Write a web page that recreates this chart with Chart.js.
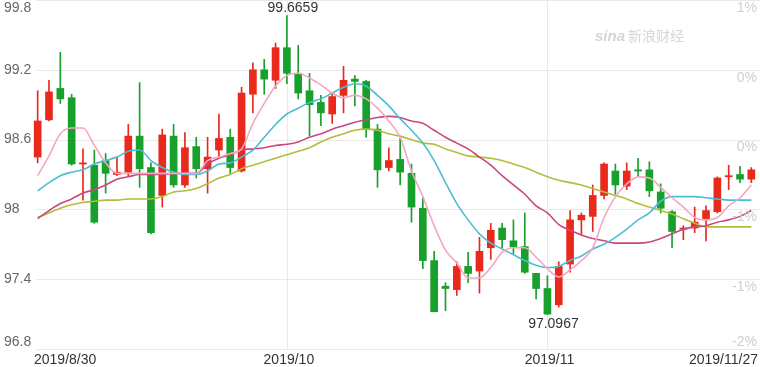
<!DOCTYPE html>
<html><head><meta charset="utf-8">
<script src="https://cdn.jsdelivr.net/npm/chart.js@4"></script>
<style>html,body{margin:0;padding:0;background:#fff}#wrap{position:relative;width:760px;height:367px}</style>
</head><body><div id="wrap"><canvas id="c" width="760" height="367"></canvas></div>
<script>
const dates = ["2019/8/30",
 "2019/9/2","2019/9/3","2019/9/4","2019/9/5","2019/9/6","2019/9/9","2019/9/10","2019/9/11","2019/9/12","2019/9/13",
 "2019/9/16","2019/9/17","2019/9/18","2019/9/19","2019/9/20","2019/9/23","2019/9/24","2019/9/25","2019/9/26","2019/9/27","2019/9/30",
 "2019/10/1","2019/10/2","2019/10/3","2019/10/4","2019/10/7","2019/10/8","2019/10/9","2019/10/10","2019/10/11",
 "2019/10/14","2019/10/15","2019/10/16","2019/10/17","2019/10/18","2019/10/21","2019/10/22","2019/10/23","2019/10/24","2019/10/25",
 "2019/10/28","2019/10/29","2019/10/30","2019/10/31",
 "2019/11/1","2019/11/4","2019/11/5","2019/11/6","2019/11/7","2019/11/8","2019/11/11","2019/11/12","2019/11/13","2019/11/14","2019/11/15",
 "2019/11/18","2019/11/19","2019/11/20","2019/11/21","2019/11/22","2019/11/25","2019/11/26","2019/11/27"];

const openP  = [98.45,98.77,99.04,98.96,98.39,98.38,98.42,98.30,98.32,98.63,98.36,98.12,98.63,98.21,98.54,98.35,98.51,98.62,98.33,98.99,99.20,99.11,99.39,99.17,99.02,98.92,98.82,98.98,99.12,99.10,98.69,98.36,98.43,98.31,98.01,97.56,97.34,97.31,97.51,97.47,97.67,97.84,97.73,97.68,97.45,97.32,97.18,97.53,97.91,97.94,98.12,98.33,98.20,98.34,98.34,98.15,97.98,97.83,97.84,97.91,97.98,98.28,98.30,98.26];
const highP  = [99.02,99.11,99.35,98.99,98.52,98.51,98.48,98.45,98.73,99.09,98.40,98.69,98.73,98.66,98.62,98.62,98.82,98.69,99.05,99.26,99.29,99.43,99.6659,99.41,99.17,98.98,99.00,99.23,99.15,99.11,98.73,98.53,98.61,98.39,98.10,97.64,97.37,97.55,97.63,97.76,97.88,97.88,97.91,97.97,97.45,97.43,97.55,97.99,97.97,98.21,98.40,98.39,98.40,98.44,98.41,98.22,97.99,97.86,98.02,98.03,98.28,98.38,98.37,98.36];
const lowP   = [98.40,98.76,98.91,98.38,98.08,97.88,98.14,98.29,98.29,98.19,97.79,98.02,98.19,98.19,98.27,98.14,98.45,98.31,98.32,98.83,98.99,99.04,99.08,98.95,98.63,98.72,98.74,98.83,98.89,98.62,98.19,98.33,98.21,97.89,97.49,97.12,97.13,97.26,97.37,97.28,97.57,97.67,97.62,97.45,97.23,97.0967,97.16,97.46,97.78,97.81,98.09,98.13,98.17,98.29,98.11,97.97,97.67,97.74,97.80,97.73,97.97,98.17,98.23,98.23];
const closeP = [98.76,99.01,98.95,98.39,98.40,97.89,98.31,98.32,98.63,98.35,97.80,98.64,98.21,98.53,98.35,98.45,98.61,98.36,99.00,99.20,99.12,99.39,99.17,99.00,98.90,98.83,98.97,99.11,99.10,98.69,98.34,98.42,98.32,98.02,97.56,97.12,97.32,97.51,97.45,97.64,97.82,97.74,97.68,97.46,97.32,97.10,97.51,97.91,97.95,98.12,98.39,98.21,98.33,98.33,98.16,98.01,97.81,97.84,97.89,97.99,98.27,98.29,98.26,98.34];

const ma5  = [98.29,98.46,98.65,98.70,98.70,98.55,98.40,98.31,98.31,98.31,98.31,98.31,98.31,98.31,98.31,98.42,98.45,98.48,98.52,98.74,98.91,99.06,99.15,99.17,99.13,99.07,99.00,98.96,98.98,98.95,98.87,98.76,98.62,98.33,98.11,97.86,97.65,97.54,97.41,97.41,97.50,97.63,97.67,97.67,97.59,97.49,97.42,97.48,97.56,97.67,97.93,98.11,98.22,98.28,98.27,98.19,98.10,98.02,97.93,97.91,97.93,98.03,98.10,98.21];
const ma10 = [98.16,98.23,98.29,98.32,98.34,98.39,98.42,98.45,98.50,98.51,98.42,98.36,98.32,98.30,98.30,98.33,98.39,98.40,98.45,98.51,98.62,98.73,98.82,98.87,98.92,98.95,99.00,99.05,99.08,99.06,98.98,98.89,98.78,98.68,98.57,98.42,98.23,98.05,97.91,97.79,97.71,97.66,97.61,97.56,97.52,97.50,97.51,97.56,97.60,97.66,97.70,97.76,97.83,97.91,97.97,98.07,98.11,98.11,98.11,98.10,98.09,98.08,98.08,98.08];
const ma20 = [97.92,97.99,98.05,98.09,98.14,98.17,98.21,98.26,98.28,98.30,98.30,98.30,98.31,98.31,98.31,98.39,98.44,98.47,98.51,98.52,98.53,98.55,98.56,98.58,98.62,98.65,98.69,98.72,98.75,98.77,98.79,98.80,98.79,98.76,98.74,98.68,98.62,98.57,98.52,98.45,98.38,98.29,98.21,98.13,98.03,97.97,97.87,97.82,97.78,97.75,97.73,97.71,97.71,97.71,97.72,97.75,97.79,97.83,97.85,97.86,97.89,97.91,97.94,97.99];
const ma30 = [97.93,97.97,98.01,98.04,98.06,98.07,98.08,98.08,98.09,98.09,98.09,98.11,98.15,98.16,98.18,98.22,98.27,98.30,98.35,98.38,98.41,98.44,98.47,98.50,98.53,98.58,98.62,98.65,98.68,98.69,98.68,98.65,98.63,98.60,98.57,98.56,98.52,98.49,98.46,98.45,98.44,98.42,98.39,98.36,98.32,98.28,98.25,98.23,98.21,98.18,98.15,98.12,98.09,98.05,98.02,97.99,97.96,97.92,97.88,97.85,97.85,97.85,97.85,97.85];

const yTicks = [96.8, 97.4, 98, 98.6, 99.2, 99.8];
const yTickLabels = ["96.8", "97.4", "98", "98.6", "99.2", "99.8"];
const pctLabels = ["-2%", "-1%", "-1%", "0%", "0%", "1%"];
const xTickIdx = [0, 22, 45, 63];
const xTickLabels = ["2019/8/30", "2019/10", "2019/11", "2019/11/27"];
const vGridIdx = [22, 45];

const UP = '#e8291c', DOWN = '#17a02b';
const candleColors = closeP.map((c, i) => c >= openP[i] ? UP : DOWN);
const wicks = lowP.map((l, i) => [l, highP[i]]);
const bodies = openP.map((o, i) => [Math.min(o, closeP[i]), Math.max(o, closeP[i])]);

const FONT = '"Liberation Sans", Arial, sans-serif';

const decor = {
  id: 'decor',
  beforeDatasetsDraw(chart) {
    const ctx = chart.ctx, ys = chart.scales.y, xs = chart.scales.x;
    ctx.save();
    ctx.strokeStyle = '#e9e9e9';
    ctx.lineWidth = 1;
    yTicks.forEach(v => {
      const y = Math.round(ys.getPixelForValue(v)) + 0.5;
      ctx.beginPath(); ctx.moveTo(36, y); ctx.lineTo(760, y); ctx.stroke();
    });
    vGridIdx.forEach(i => {
      const x = Math.round(xs.getPixelForValue(i)) + 0.5;
      ctx.beginPath(); ctx.moveTo(x, 0); ctx.lineTo(x, ys.getPixelForValue(96.8)); ctx.stroke();
    });
    // watermark
    ctx.fillStyle = '#d6d6d6';
    ctx.font = 'italic bold 15px ' + FONT;
    ctx.textBaseline = 'middle';
    ctx.textAlign = 'left';
    ctx.fillText('sina', 595, 37);
    ctx.font = '14px "Noto Sans CJK SC", sans-serif';
    ctx.fillText('新浪财经', 628, 36);
    ctx.restore();
  },
  afterDraw(chart) {
    const ctx = chart.ctx, ys = chart.scales.y, xs = chart.scales.x;
    const bottom = ys.getPixelForValue(96.8);
    ctx.save();
    ctx.font = '14px ' + FONT;
    ctx.textBaseline = 'middle';
    // left y labels
    ctx.fillStyle = '#666';
    ctx.textAlign = 'left';
    yTicks.forEach((v, k) => {
      let y = ys.getPixelForValue(v);
      y = Math.max(8, Math.min(342, y));
      ctx.fillText(yTickLabels[k], 4, y);
    });
    // right percent labels
    ctx.fillStyle = '#cfcfcf';
    ctx.textAlign = 'right';
    yTicks.forEach((v, k) => {
      let y = ys.getPixelForValue(v) + 8;
      y = Math.min(342, y);
      ctx.fillText(pctLabels[k], 757, y);
    });
    // x labels
    ctx.fillStyle = '#333';
    xTickIdx.forEach((idx, k) => {
      const x = xs.getPixelForValue(idx);
      if (k === 0) { ctx.textAlign = 'left'; ctx.fillText(xTickLabels[k], 34, 360); }
      else if (k === xTickIdx.length - 1) { ctx.textAlign = 'right'; ctx.fillText(xTickLabels[k], 758, 360); }
      else { ctx.textAlign = 'center'; ctx.fillText(xTickLabels[k], x + 2, 360); }
    });
    // max / min annotations
    let hi = 0, lo = 0;
    highP.forEach((h, i) => { if (h > highP[hi]) hi = i; });
    lowP.forEach((l, i) => { if (l < lowP[lo]) lo = i; });
    ctx.fillStyle = '#333';
    ctx.textAlign = 'center';
    ctx.fillText(highP[hi].toFixed(4), xs.getPixelForValue(hi) + 6, Math.max(8, ys.getPixelForValue(highP[hi]) - 8));
    ctx.fillText(lowP[lo].toFixed(4), xs.getPixelForValue(lo) + 6, ys.getPixelForValue(lowP[lo]) + 10);
    ctx.restore();
  }
};

const lineDs = (label, data, color) => ({
  type: 'line', label, data, borderColor: color, borderWidth: 1.6,
  pointRadius: 0, fill: false, cubicInterpolationMode: 'monotone', order: 0
});

new Chart(document.getElementById('c'), {
  type: 'bar',
  data: {
    labels: dates,
    datasets: [
      lineDs('MA5', ma5, '#f4a6c2'),
      lineDs('MA10', ma10, '#4bbdd5'),
      lineDs('MA20', ma20, '#c9477d'),
      lineDs('MA30', ma30, '#b3bd3a'),
      { type: 'bar', label: 'body', data: bodies, backgroundColor: candleColors, barThickness: 7, grouped: false, minBarLength: 1, borderWidth: 0, order: 1 },
      { type: 'bar', label: 'wick', data: wicks, backgroundColor: candleColors, barThickness: 1, grouped: false, borderWidth: 0, order: 2 }
    ]
  },
  options: {
    responsive: false,
    devicePixelRatio: 1,
    animation: false,
    layout: { padding: { left: 32, right: 3, top: 0, bottom: 18 } },
    plugins: { legend: { display: false }, tooltip: { enabled: false } },
    scales: {
      x: { type: 'category', offset: true, display: false, grid: { display: false } },
      y: { min: 96.8, max: 99.8, display: false, grid: { display: false } }
    }
  },
  plugins: [decor]
});
</script>
</body></html>
